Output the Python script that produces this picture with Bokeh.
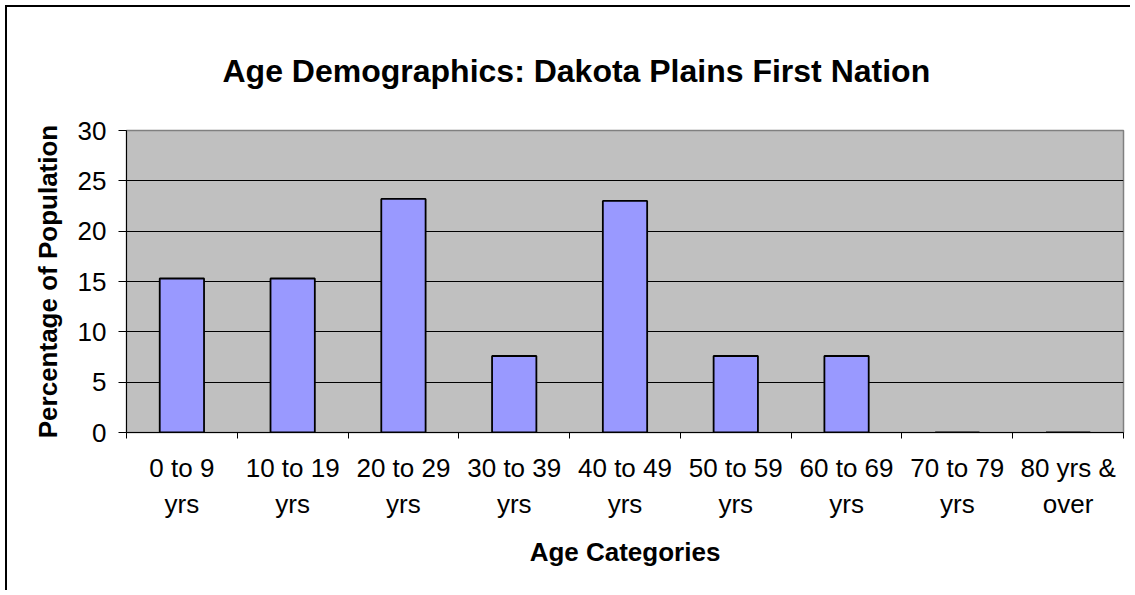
from bokeh.plotting import figure
from bokeh.models import FixedTicker, ColumnDataSource, Title
from bokeh.embed import file_html
from bokeh.resources import INLINE

title_text = "Age Demographics: Dakota Plains First Nation"
categories = ["0 to 9\nyrs", "10 to 19\nyrs", "20 to 29\nyrs", "30 to 39\nyrs",
              "40 to 49\nyrs", "50 to 59\nyrs", "60 to 69\nyrs", "70 to 79\nyrs",
              "80 yrs &\nover"]
values = [15.3, 15.3, 23.2, 7.6, 23.0, 7.6, 7.6, 0.0, 0.0]
y_ticks = [0, 5, 10, 15, 20, 25, 30]

FONT = "Liberation Sans"

centers = [i + 0.5 for i in range(len(categories))]
src = ColumnDataSource(dict(x=centers, top=values))

p = figure(width=1125, height=585, x_range=(0, len(categories)), y_range=(0, 30),
           output_backend="svg", toolbar_location=None, tools="",
           min_border_left=119, min_border_top=123, min_border_right=9,
           min_border_bottom=160)
p.styles = {"margin-left": "5px", "margin-top": "5px",
            "border-left": "2px solid black", "border-top": "2px solid black"}

p.background_fill_color = "#C0C0C0"
p.border_fill_color = "white"
p.outline_line_color = "#808080"
p.outline_line_width = 1.5

p.vbar(x="x", top="top", width=0.4, source=src, fill_color="#9999FF",
       line_color="black", line_width=1.8)

p.title = Title(text=title_text, align="left", offset=96, text_font=FONT,
                text_font_size="32px", text_font_style="bold", text_color="black",
                standoff=84)

# y axis
p.yaxis.ticker = FixedTicker(ticks=y_ticks, minor_ticks=[])
p.yaxis.major_tick_out = 8
p.yaxis.major_tick_in = 0
p.yaxis.minor_tick_out = 0
p.yaxis.axis_line_color = "black"
p.yaxis.major_tick_line_color = "black"
p.yaxis.major_label_text_font = FONT
p.yaxis.major_label_text_font_size = "26px"
p.yaxis.major_label_text_color = "black"
p.yaxis.major_label_standoff = 12
p.yaxis.axis_label = "Percentage of Population"
p.yaxis.axis_label_text_font = FONT
p.yaxis.axis_label_text_font_size = "26px"
p.yaxis.axis_label_text_font_style = "bold"
p.yaxis.axis_label_text_color = "black"
p.yaxis.axis_label_standoff = 12

# x axis
xaxis = p.below[0]
xaxis.ticker = FixedTicker(ticks=centers, minor_ticks=list(range(len(categories) + 1)))
xaxis.major_label_overrides = {c: lab for c, lab in zip(centers, categories)}
xaxis.major_tick_out = 0
xaxis.major_tick_in = 0
xaxis.minor_tick_out = 6
xaxis.minor_tick_in = 0
xaxis.minor_tick_line_color = "black"
xaxis.axis_line_color = "black"
xaxis.major_label_text_font = FONT
xaxis.major_label_text_font_size = "26px"
xaxis.major_label_text_color = "black"
xaxis.major_label_standoff = 14
xaxis.axis_label = "Age Categories"
xaxis.axis_label_text_font = FONT
xaxis.axis_label_text_font_size = "26px"
xaxis.axis_label_text_font_style = "bold"
xaxis.axis_label_text_color = "black"
xaxis.axis_label_standoff = 15

p.xgrid.visible = False
p.ygrid.ticker = FixedTicker(ticks=[5, 10, 15, 20, 25])
p.ygrid.grid_line_color = "black"
p.ygrid.grid_line_width = 1

open("out.html", "w").write(file_html(p, INLINE))
